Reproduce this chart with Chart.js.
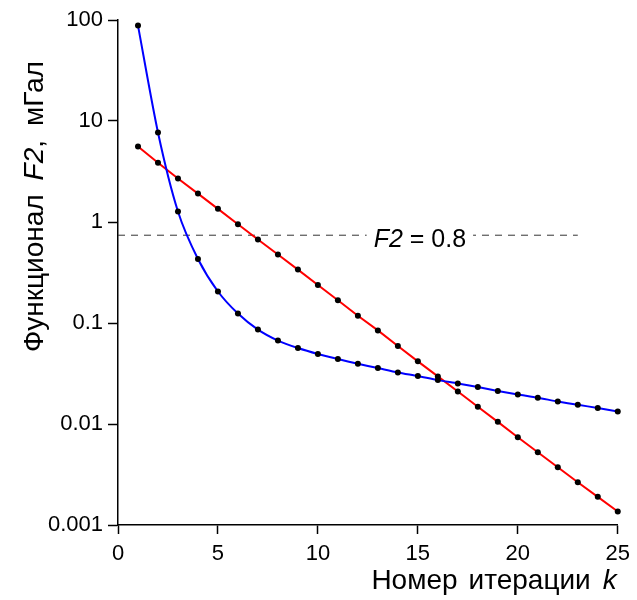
<!DOCTYPE html>
<html>
<head>
<meta charset="utf-8">
<script src="https://cdn.jsdelivr.net/npm/chart.js@4.4.1/dist/chart.umd.min.js"></script>
<style>
  body { margin: 0; background: #fff; }
  #wrap { width: 637px; height: 600px; }
</style>
</head>
<body>
<div id="wrap"><canvas id="chart" width="637" height="600"></canvas></div>
<script>
// iteration numbers k
const iterations = [1, 2, 3, 4, 5, 6, 7, 8, 9, 10, 11, 12, 13, 14, 15, 16, 17, 18, 19, 20, 21, 22, 23, 24, 25];

// blue curve (fast drop, then slow)
const blueValues = [88, 7.7, 1.27, 0.43, 0.205, 0.124, 0.086, 0.067, 0.0565, 0.0493, 0.044, 0.0395,
    0.0358, 0.0324, 0.0298, 0.0272, 0.0252, 0.0232, 0.0212, 0.0196, 0.0182, 0.0167, 0.0155, 0.0144, 0.0133];

// red curve (straight on log scale)
const redValues = [5.6, 3.86, 2.7, 1.91, 1.35, 0.95, 0.67, 0.477, 0.338, 0.238, 0.168, 0.118, 0.0845,
    0.0592, 0.0417, 0.0296, 0.021, 0.0148, 0.0105, 0.0074, 0.00526, 0.00373, 0.00265, 0.0019, 0.00136];

// dashed level line
const levelValue = 0.74;
const levelRange = [0, 23];
const levelText = ['F2', ' = 0.8'];

const xTicks = [0, 5, 10, 15, 20, 25];
const yTicks = [0.001, 0.01, 0.1, 1, 10, 100];
const yTickLabels = ['0.001', '0.01', '0.1', '1', '10', '100'];

const FONT = "'Liberation Sans', Arial, sans-serif";

function toPoints(values) {
    return iterations.map((k, i) => ({ x: k, y: values[i] }));
}

// draws a row of text pieces, some italic, starting at x
function drawPieces(ctx, pieces, size, x, y) {
    let pos = x;
    pieces.forEach(p => {
        if (p.gap) { pos += p.gap; return; }
        ctx.font = (p.italic ? 'italic ' : '') + size + 'px ' + FONT;
        ctx.fillText(p.text, pos, y);
        pos += ctx.measureText(p.text).width;
    });
    return pos - x;
}

function measurePieces(ctx, pieces, size) {
    let w = 0;
    pieces.forEach(p => {
        if (p.gap) { w += p.gap; return; }
        ctx.font = (p.italic ? 'italic ' : '') + size + 'px ' + FONT;
        w += ctx.measureText(p.text).width;
    });
    return w;
}

const textPlugin = {
    id: 'texts',
    afterDatasetsDraw(chart) {
        const { ctx, scales: { x, y } } = chart;
        const size = 25;
        const pieces = [{ text: levelText[0], italic: true }, { text: levelText[1] }];
        const w = measurePieces(ctx, pieces, size);
        const cx = x.getPixelForValue(15.1);
        const ly = y.getPixelForValue(levelValue);
        ctx.save();
        ctx.fillStyle = '#fff';
        ctx.fillRect(cx - w / 2 - 7, ly - 4, w + 14, 8);
        ctx.fillStyle = '#000';
        ctx.textBaseline = 'alphabetic';
        drawPieces(ctx, pieces, size, cx - w / 2, ly + 12);
        ctx.restore();
    },
    afterDraw(chart) {
        const { ctx, chartArea } = chart;
        const size = 28;
        ctx.save();
        ctx.fillStyle = '#000';
        ctx.textBaseline = 'alphabetic';

        // x axis title, right aligned to the axis end
        const xPieces = [{ text: 'Номер' }, { gap: 11 }, { text: 'итерации' }, { gap: 12 }, { text: 'k', italic: true }];
        const xw = measurePieces(ctx, xPieces, size);
        drawPieces(ctx, xPieces, size, chartArea.right - 1 - xw, 589);

        // y axis title, rotated
        const yPieces = [{ text: 'Функционал' }, { gap: 14 }, { text: 'F2', italic: true }, { text: ',' }, { gap: 14 }, { text: 'мГал' }];
        ctx.translate(43, 352);
        ctx.rotate(-Math.PI / 2);
        drawPieces(ctx, yPieces, size, 0, 0);
        ctx.restore();
    }
};

const ctx = document.getElementById('chart').getContext('2d');
new Chart(ctx, {
    type: 'line',
    data: {
        datasets: [{
            data: toPoints(blueValues),
            borderColor: '#0000ff',
            borderWidth: 2,
            tension: 0.25,
            pointRadius: 3,
            pointBackgroundColor: '#000',
            pointBorderWidth: 0,
            clip: false,
        }, {
            data: toPoints(redValues),
            borderColor: '#ff0000',
            borderWidth: 2,
            tension: 0,
            pointRadius: 3,
            pointBackgroundColor: '#000',
            pointBorderWidth: 0,
            clip: false,
        }, {
            data: levelRange.map(k => ({ x: k, y: levelValue })),
            borderColor: '#333',
            borderWidth: 1,
            borderDash: [7, 6],
            pointRadius: 0,
            clip: false,
        }]
    },
    options: {
        responsive: false,
        animation: false,
        layout: { padding: { top: 20, right: 12, left: 0, bottom: 0 } },
        scales: {
            x: {
                type: 'linear',
                min: 0,
                max: 25,
                afterBuildTicks: s => { s.ticks = xTicks.map(v => ({ value: v })); },
                afterFit: s => { s.height = 75; },
                ticks: {
                    autoSkip: false,
                    maxRotation: 0,
                    padding: 7,
                    color: '#000',
                    font: { family: FONT, size: 22 },
                },
                grid: { drawOnChartArea: false, tickLength: 9, tickColor: '#000', tickWidth: 1.5 },
                border: { color: '#000', width: 1.5 },
            },
            y: {
                type: 'logarithmic',
                min: 0.001,
                max: 100,
                afterBuildTicks: s => { s.ticks = yTicks.map(v => ({ value: v })); },
                afterFit: s => { s.width = 118; },
                ticks: {
                    autoSkip: false,
                    padding: 5,
                    color: '#000',
                    font: { family: FONT, size: 22 },
                    callback: (v, i) => yTickLabels[i],
                },
                grid: { drawOnChartArea: false, tickLength: 10, tickColor: '#000', tickWidth: 1.5 },
                border: { color: '#000', width: 1.5 },
            }
        },
        plugins: {
            legend: { display: false },
            tooltip: { enabled: false },
        }
    },
    plugins: [textPlugin]
});
</script>
</body>
</html>
